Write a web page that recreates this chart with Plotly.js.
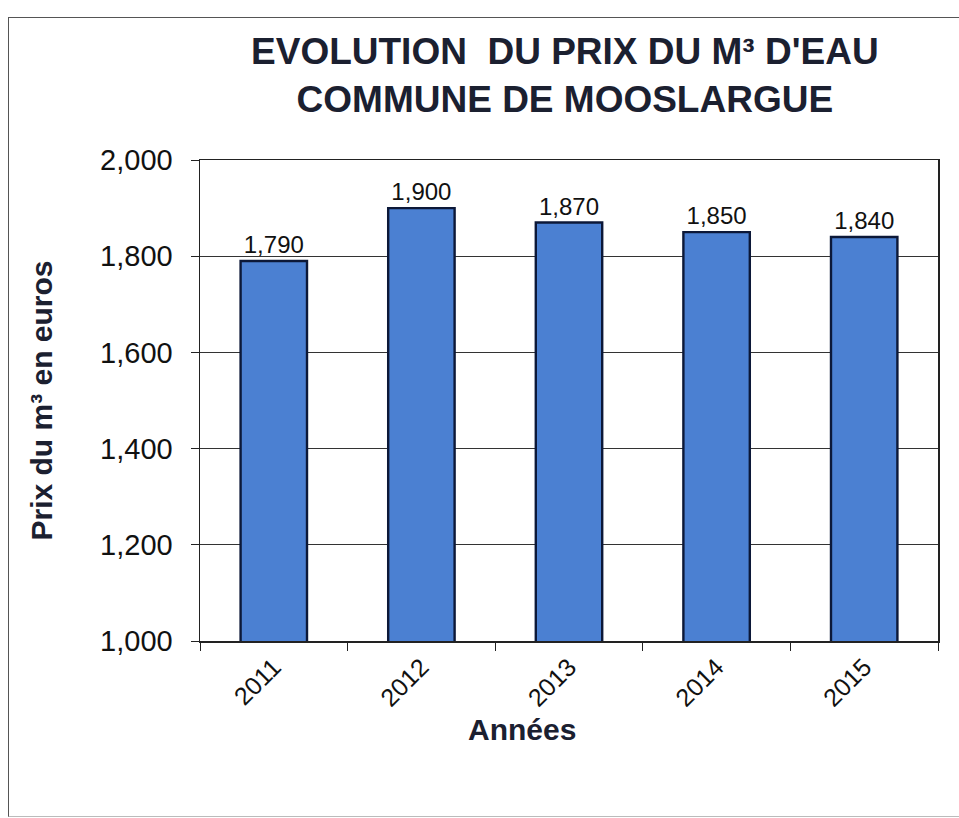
<!DOCTYPE html>
<html>
<head>
<meta charset="utf-8">
<script src="https://cdn.plot.ly/plotly-3.0.1.min.js"></script>
<style>
html,body{margin:0;padding:0;background:#fff;}
#frame{position:absolute;left:8px;top:17px;width:960px;height:798px;border-left:1.5px solid #555;border-top:1.5px solid #555;border-bottom:1px solid #bbb;pointer-events:none;}
#chart{width:959px;height:818px;}
</style>
</head>
<body>
<div id="chart"></div>
<div id="frame"></div>
<script>
const years = ['2011', '2012', '2013', '2014', '2015'];
const prices = [1.790, 1.900, 1.870, 1.850, 1.840];
const yTicks = [1.0, 1.2, 1.4, 1.6, 1.8, 2.0];

const trace = {
  type: 'bar',
  x: years,
  y: prices,
  width: 0.45,
  marker: {color: '#4b80d2', line: {color: '#0c1838', width: 2.4}},
  texttemplate: '%{y:.3f}',
  textposition: 'outside',
  cliponaxis: false,
  textfont: {family: 'Liberation Sans, Arial, sans-serif', size: 24, color: '#111'},
  hoverinfo: 'none'
};

const layout = {
  width: 959, height: 818,
  separators: ', ',
  paper_bgcolor: '#ffffff',
  plot_bgcolor: '#ffffff',
  margin: {l: 200, r: 21, t: 160, b: 177},
  font: {family: 'Liberation Sans, Arial, sans-serif', color: '#111'},
  title: {
    text: "<b>EVOLUTION  DU PRIX DU M³ D'EAU<br>COMMUNE DE MOOSLARGUE</b>",
    x: 0.589, xanchor: 'center', xref: 'container',
    y: 0.922, yanchor: 'middle', yref: 'container',
    font: {family: 'Liberation Sans, Arial, sans-serif', size: 37, color: '#1b2030'}
  },
  showlegend: false,
  xaxis: {
    type: 'category',
    tickangle: -45,
    tickson: 'boundaries',
    ticks: 'outside', ticklen: 8, tickcolor: '#222',
    showline: true, linecolor: '#222', linewidth: 1.5, mirror: true,
    showgrid: false,
    tickfont: {size: 25, color: '#111'}
  },
  yaxis: {
    range: [1.0, 2.0],
    tickvals: yTicks,
    tickformat: '.3f',
    ticks: 'outside', ticklen: 8, tickcolor: '#222',
    ticklabelstandoff: 12,
    showline: true, linecolor: '#222', linewidth: 1.5, mirror: true,
    showgrid: true, gridcolor: '#333', gridwidth: 1,
    zeroline: false,
    tickfont: {size: 29, color: '#111'},
    title: {text: '<b>Prix du m³ en euros</b>', font: {size: 30, color: '#1b2030'}, standoff: 38}
  },
  annotations: [{
    text: '<b>Années</b>',
    xref: 'paper', yref: 'paper',
    x: 0.436, y: -0.185, xanchor: 'center', yanchor: 'middle',
    showarrow: false,
    font: {family: 'Liberation Sans, Arial, sans-serif', size: 30, color: '#1b2030'}
  }]
};

Plotly.newPlot('chart', [trace], layout, {displayModeBar: false, staticPlot: true});
</script>
</body>
</html>
